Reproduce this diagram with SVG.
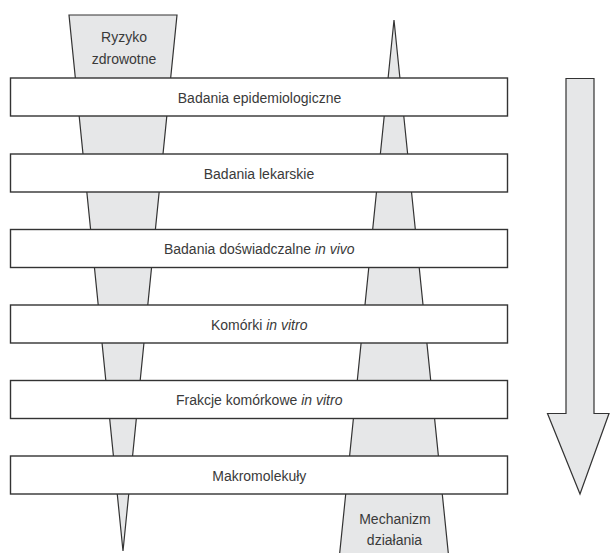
<svg xmlns="http://www.w3.org/2000/svg" width="610" height="553" viewBox="0 0 610 553">
<style>
.funnel{fill:#e6e7e8;stroke:#333;stroke-width:1.2;stroke-linejoin:miter}
.bar{fill:#fff;stroke:#333;stroke-width:1.4}
.lbl{font-family:"Liberation Sans",Arial,sans-serif;font-size:14px;fill:#3a3a3a;text-anchor:middle}
.it{font-style:italic}
</style>
<rect width="610" height="553" fill="#fff"/>
<g id="funnel-risk">
<polygon class="funnel" points="69,15 177,15 123,551"/>
<text class="lbl" x="124" y="42">Ryzyko</text>
<text class="lbl" x="124" y="63.5">zdrowotne</text>
</g>
<g id="funnel-mechanism">
<polygon points="394,20 449,560 339,560" fill="#e6e7e8"/>
<polyline points="339,560 394,20 449,560" fill="none" stroke="#333" stroke-width="1.2"/>
<text class="lbl" x="395" y="523.5">Mechanizm</text>
<text class="lbl" x="394.5" y="544.5">działania</text>
</g>
<g id="bar-1">
<rect class="bar" x="10.5" y="78" width="497" height="38"/>
<text class="lbl" x="259.5" y="102.5">Badania epidemiologiczne</text>
</g>
<g id="bar-2">
<rect class="bar" x="10.5" y="154" width="497" height="38"/>
<text class="lbl" x="259" y="178.5">Badania lekarskie</text>
</g>
<g id="bar-3">
<rect class="bar" x="10.5" y="229.5" width="497" height="38"/>
<text class="lbl" x="259.3" y="254">Badania doświadczalne <tspan class="it">in vivo</tspan></text>
</g>
<g id="bar-4">
<rect class="bar" x="10.5" y="305" width="497" height="38"/>
<text class="lbl" x="259.2" y="329.5">Komórki <tspan class="it">in vitro</tspan></text>
</g>
<g id="bar-5">
<rect class="bar" x="10.5" y="380.5" width="497" height="38"/>
<text class="lbl" x="259.2" y="405">Frakcje komórkowe <tspan class="it">in vitro</tspan></text>
</g>
<g id="bar-6">
<rect class="bar" x="10.5" y="456" width="497" height="38"/>
<text class="lbl" x="259.3" y="480.5">Makromolekuły</text>
</g>
<g id="connectors">
<polygon class="funnel" points="566,78.5 594,78.5 594,413.5 609,413.5 580,494 547.5,413.5 566,413.5"/>
</g>
</svg>
